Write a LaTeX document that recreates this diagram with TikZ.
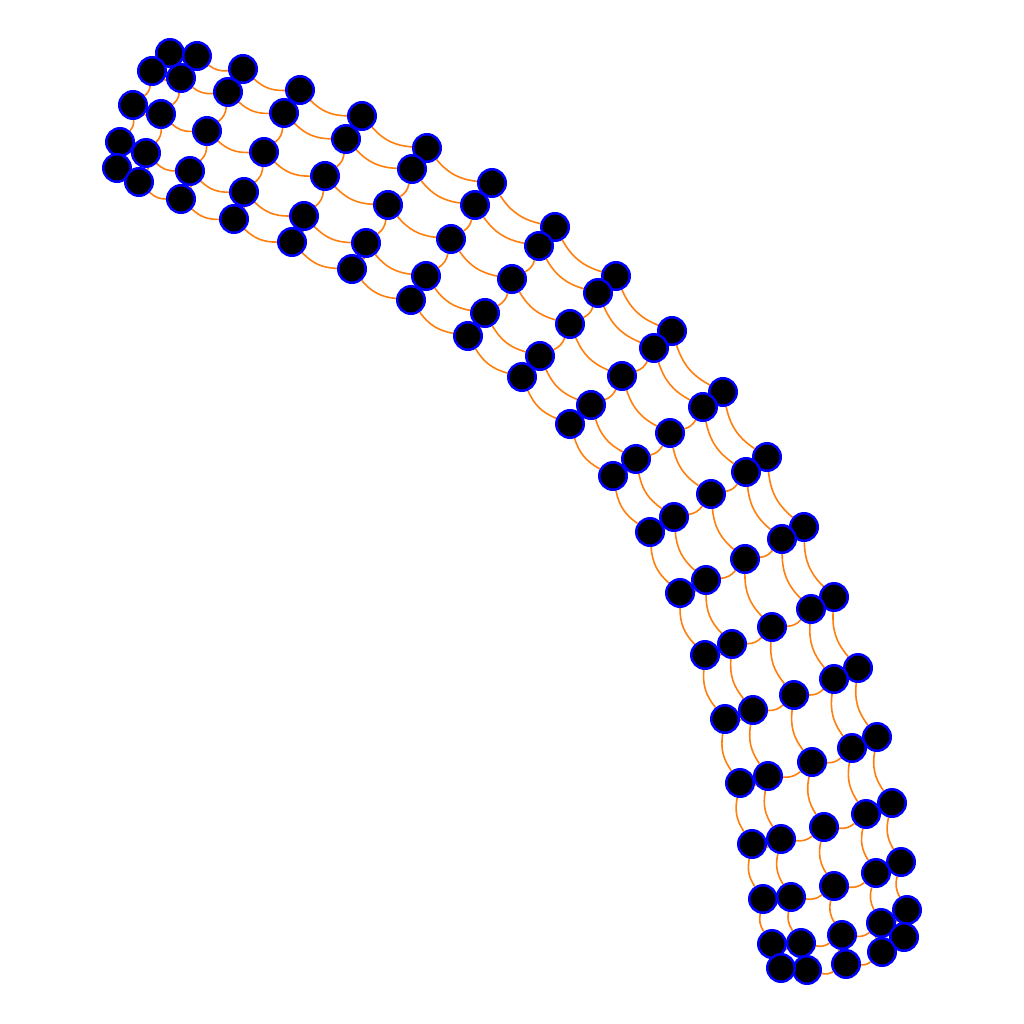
\documentclass[tikz,border=0pt]{standalone}
\usepackage{tikz}
\usetikzlibrary{backgrounds}

\definecolor{edgeorange}{HTML}{FF7F0E}
\tikzset{
  vertex/.style={circle,fill=black,draw=blue,line width=.25mm,minimum size=2.75mm,inner sep=0pt},
  link/.style={edgeorange,line width=.16mm}
}

\begin{document}
\begin{tikzpicture}[x=.1mm,y=-.1mm]
  \useasboundingbox (0,0) rectangle (1024,1024);
  % cross sections, outer side first
  \foreach \pts [count=\s] in {
    {(170,53),(152,71),(133,105),(120,142),(117,168)},
    {(197,56),(181,78),(161,114),(146,153),(139,182)},
    {(243,69),(228,92),(207,131),(190,171),(181,199)},
    {(300,90),(284,113),(264,152),(244,192),(234,219)},
    {(362,116),(346,139),(325,176),(304,216),(292,242)},
    {(427,148),(412,169),(388,205),(366,243),(352,269)},
    {(492,183),(475,205),(451,239),(426,276),(411,300)},
    {(555,227),(539,246),(512,279),(485,313),(468,336)},
    {(616,276),(598,293),(570,324),(540,356),(522,377)},
    {(672,331),(654,348),(622,376),(591,405),(570,424)},
    {(723,392),(703,407),(670,433),(636,459),(613,476)},
    {(767,457),(746,472),(711,494),(674,517),(650,532)},
    {(804,527),(782,539),(745,559),(706,580),(680,593)},
    {(834,597),(811,609),(772,627),(732,644),(705,655)},
    {(858,668),(834,679),(794,695),(753,710),(725,719)},
    {(877,737),(852,748),(812,762),(768,776),(740,783)},
    {(892,803),(866,814),(824,827),(781,839),(752,844)},
    {(901,862),(876,873),(834,886),(791,897),(763,899)},
    {(907,910),(881,923),(842,935),(801,943),(772,944)},
    {(904,937),(882,952),(846,964),(807,970),(781,968)}}
    \foreach \c [count=\p] in \pts
      \node[vertex] (n-\s-\p) at \c {};
  \begin{scope}[on background layer]
    % along the tube
    \foreach \s in {1,...,19}
      \foreach \p in {1,...,5} {
        \pgfmathtruncatemacro{\t}{\s+1}
        \draw[link] (n-\s-\p) to[bend right=22] (n-\t-\p);
      }
    % across the tube
    \foreach \s in {1,...,20}
      \foreach \p in {1,...,4} {
        \pgfmathtruncatemacro{\q}{\p+1}
        \draw[link] (n-\s-\q) to[bend right=22] (n-\s-\p);
      }
  \end{scope}
\end{tikzpicture}
\end{document}
